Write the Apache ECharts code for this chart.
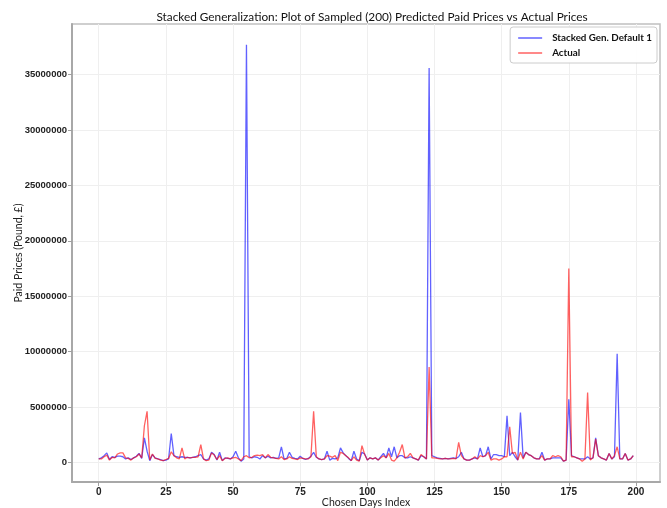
<!DOCTYPE html>
<html>
<head>
<meta charset="utf-8">
<script src="https://cdn.jsdelivr.net/npm/echarts@6/dist/echarts.min.js"></script>
<style>
html,body{margin:0;padding:0;background:#fff;}
#chart{width:667px;height:508px;}
</style>
</head>
<body>
<div id="chart"></div>
<script>
// Values in millions of pounds, index 0..199
const predicted = [
0.3,0.4,0.6,0.85,0.25,0.5,0.45,0.55,0.55,0.5,
0.3,0.4,0.25,0.4,0.55,0.8,0.35,2.2,1.0,0.15,
0.7,0.4,0.3,0.25,0.15,0.2,0.3,2.6,0.6,0.5,
0.45,0.5,0.45,0.45,0.4,0.45,0.5,0.6,0.7,0.3,
0.2,0.3,0.9,0.7,0.2,0.9,0.15,0.4,0.35,0.3,
0.5,1.0,0.4,0.1,0.3,37.7,0.5,0.4,0.5,0.45,
0.3,0.6,0.4,0.55,0.4,0.45,0.35,0.4,1.4,0.3,
0.35,0.9,0.45,0.35,0.3,0.55,0.35,0.25,0.35,0.55,
0.9,0.45,0.3,0.25,0.3,1.0,0.2,0.35,0.3,0.4,
1.3,0.85,0.6,0.35,0.15,1.0,0.3,0.15,0.9,0.75,
0.2,0.4,0.3,0.4,0.2,0.5,0.8,0.4,1.3,0.5,
1.4,0.4,0.6,0.6,0.4,0.4,0.5,0.4,0.3,0.2,
0.6,0.5,0.3,35.6,0.6,0.5,0.4,0.35,0.3,0.35,
0.3,0.35,0.4,0.35,0.5,0.9,0.3,0.2,0.2,0.3,
0.4,0.3,1.3,0.5,0.6,1.4,0.3,0.7,0.7,0.6,
0.6,0.5,4.2,0.6,0.9,0.5,0.2,4.5,0.4,0.9,
0.7,0.6,0.4,0.3,0.3,0.9,0.2,0.3,0.3,0.4,
0.4,0.4,0.4,0.1,0.2,5.7,0.6,0.5,0.4,0.3,
0.3,0.3,0.5,0.3,0.4,2.2,0.6,0.4,0.3,0.2,
0.8,0.3,0.5,9.8,0.3,0.3,0.8,0.2,0.3,0.6
];
const actual = [
0.3,0.3,0.5,0.65,0.2,0.45,0.4,0.75,0.85,0.85,
0.4,0.35,0.2,0.4,0.5,0.75,0.4,3.3,4.6,0.2,
0.75,0.35,0.3,0.2,0.15,0.25,0.35,0.95,0.6,0.4,
0.3,1.3,0.3,0.45,0.4,0.45,0.45,0.5,1.6,0.3,
0.15,0.2,0.85,0.65,0.25,0.6,0.15,0.35,0.4,0.3,
0.4,0.45,0.3,0.15,0.5,0.6,0.4,0.45,0.6,0.65,
0.6,0.7,0.4,0.7,0.45,0.4,0.35,0.3,0.5,0.25,
0.3,0.5,0.35,0.3,0.25,0.4,0.35,0.3,0.3,0.5,
4.6,0.5,0.3,0.25,0.3,0.6,0.55,0.45,0.6,0.15,
0.9,0.8,0.6,0.4,0.15,0.5,0.2,0.1,1.5,0.7,
0.2,0.4,0.3,0.4,0.2,0.4,0.6,0.4,0.8,0.2,
0.1,0.4,0.9,1.6,0.4,0.5,0.8,0.4,0.3,0.2,
0.7,0.5,0.3,8.6,0.4,0.4,0.35,0.3,0.3,0.35,
0.3,0.3,0.35,0.3,1.8,0.6,0.3,0.2,0.2,0.3,
0.5,0.3,0.6,0.5,0.6,0.9,0.2,0.3,0.3,0.2,
0.3,0.5,0.5,3.2,0.8,0.9,0.2,0.9,0.3,0.9,
0.7,0.6,0.4,0.3,0.3,0.6,0.2,0.3,0.3,0.6,
0.5,0.6,0.5,0.1,0.2,17.5,0.5,0.5,0.4,0.3,
0.1,0.3,6.3,0.2,0.4,2.1,0.6,0.4,0.3,0.2,
0.8,0.3,0.6,1.4,0.3,0.3,0.8,0.2,0.3,0.6
];
const xTicks = [0, 25, 50, 75, 100, 125, 150, 175, 200];
const yTicks = [0, 5000000, 10000000, 15000000, 20000000, 25000000, 30000000, 35000000];
const seriesNames = ['Stacked Gen. Default 1', 'Actual'];
const titleText = 'Stacked Generalization: Plot of Sampled (200) Predicted Paid Prices vs Actual Prices';
const xName = 'Chosen Days Index';
const yName = 'Paid Prices (Pound, \u00a3)';

const M = 1e6;
const predData = predicted.map((v, i) => [i, v * M]);
const actData = actual.map((v, i) => [i, v * M]);

const all = predicted.concat(actual).map(v => v * M);
const lo = Math.min(...all), hi = Math.max(...all);
const pad = 0.05 * (hi - lo);
const xPad = 0.05 * (predicted.length - 1);

const FONT = "'Liberation Sans', Arial, sans-serif";
const HFONT = "Lato, 'Liberation Sans', sans-serif";

const chart = echarts.init(document.getElementById('chart'), null, {renderer: 'canvas'});
chart.setOption({
  animation: false,
  backgroundColor: '#ffffff',
  title: {
    text: titleText,
    left: 367,
    top: 6,
    textAlign: 'center',
    textStyle: {fontFamily: HFONT, fontSize: 11.8, fontWeight: 'normal', color: '#111'}
  },
  legend: {
    orient: 'vertical',
    right: 10,
    top: 27,
    itemWidth: 24,
    itemHeight: 1.5,
    itemGap: 5,
    padding: [6, 5, 5, 8],
    borderColor: '#cccccc',
    borderWidth: 1,
    borderRadius: 3,
    backgroundColor: 'rgba(255,255,255,0.9)',
    textStyle: {fontFamily: HFONT, fontSize: 9.8, fontWeight: 'bold', color: '#111', padding: [0, 0, 0, 5]},
    itemStyle: {opacity: 0.62},
    data: [{name: seriesNames[0], icon: 'rect'}, {name: seriesNames[1], icon: 'rect'}]
  },
  grid: {
    left: 72, right: 7, top: 24, bottom: 26,
    outerBoundsMode: 'none',
    containLabel: false,
    show: true, borderColor: '#c0c0c0', borderWidth: 1.5
  },
  xAxis: {
    type: 'value',
    min: -xPad,
    max: predicted.length - 1 + xPad,
    name: xName,
    nameLocation: 'middle',
    nameGap: 15,
    nameMoveOverlap: false,
    nameTextStyle: {fontFamily: HFONT, fontSize: 10.5, color: '#222'},
    axisLine: {show: true, onZero: false, lineStyle: {color: '#a8a8a8', width: 2}},
    axisTick: {show: true, length: 4, lineStyle: {color: '#a0a0a0'}, customValues: xTicks},
    axisLabel: {customValues: xTicks, margin: 5, fontFamily: FONT, fontSize: 10, fontWeight: 'bold', color: '#222', formatter: v => String(v)},
    splitLine: {show: true, lineStyle: {color: '#efefef', width: 1}}
  },
  yAxis: {
    type: 'value',
    min: lo - pad,
    max: hi + pad,
    name: yName,
    nameLocation: 'middle',
    nameGap: 48,
    nameMoveOverlap: false,
    nameTextStyle: {fontFamily: HFONT, fontSize: 10.5, color: '#222'},
    axisLine: {show: true, onZero: false, lineStyle: {color: '#a8a8a8', width: 2}},
    axisTick: {show: true, length: 4, lineStyle: {color: '#a0a0a0'}, customValues: yTicks},
    axisLabel: {customValues: yTicks, margin: 5, fontFamily: FONT, fontSize: 9.5, fontWeight: 'bold', color: '#222', formatter: v => String(Math.round(v))},
    splitLine: {show: true, lineStyle: {color: '#efefef', width: 1}}
  },
  series: [
    {
      name: seriesNames[0], type: 'line', data: predData, symbol: 'none',
      itemStyle: {color: '#0000ff'},
      lineStyle: {color: '#0000ff', width: 1.3, opacity: 0.62}
    },
    {
      name: seriesNames[1], type: 'line', data: actData, symbol: 'none',
      itemStyle: {color: '#ff0000'},
      lineStyle: {color: '#ff0000', width: 1.3, opacity: 0.62}
    }
  ]
});
</script>
</body>
</html>
